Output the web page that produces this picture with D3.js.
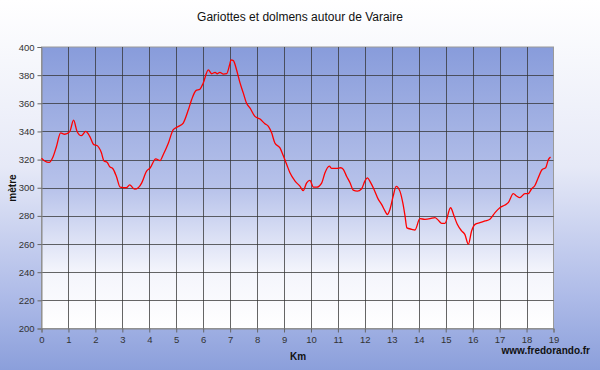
<!DOCTYPE html>
<html><head><meta charset="utf-8">
<script src="https://cdn.jsdelivr.net/npm/d3@7/dist/d3.min.js"></script>
<style>body{margin:0;padding:0;overflow:hidden}svg{display:block}text{font-family:"Liberation Sans",Arial,sans-serif}</style>
</head><body>
<script>
const title = "Gariottes et dolmens autour de Varaire";
const xLabel = "Km";
const yLabel = "mètre";
const credit = "www.fredorando.fr";
const xTicks = [0,1,2,3,4,5,6,7,8,9,10,11,12,13,14,15,16,17,18,19];
const yTicks = [200,220,240,260,280,300,320,340,360,380,400];
const km = [0,0.12,0.28,0.43,0.55,0.71,0.86,1.05,1.19,1.32,1.48,1.64,1.79,1.94,2.06,2.22,2.32,2.44,2.53,2.65,2.78,2.92,3.15,3.27,3.46,3.59,3.72,3.90,4.03,4.24,4.40,4.52,4.71,4.89,5.08,5.26,5.45,5.57,5.73,5.88,6.00,6.19,6.32,6.44,6.52,6.62,6.75,6.87,6.99,7.03,7.12,7.24,7.37,7.49,7.61,7.74,7.92,8.11,8.29,8.42,8.54,8.66,8.85,8.97,9.10,9.22,9.41,9.59,9.71,9.84,9.96,10.09,10.21,10.40,10.52,10.68,10.77,10.95,11.10,11.20,11.32,11.45,11.57,11.72,11.88,12.00,12.09,12.22,12.34,12.50,12.62,12.75,12.83,12.93,13.05,13.16,13.30,13.41,13.49,13.56,13.74,13.86,14.04,14.23,14.42,14.60,14.72,14.85,14.97,15.18,15.31,15.43,15.59,15.71,15.84,15.96,16.09,16.27,16.46,16.64,16.83,17.01,17.20,17.32,17.51,17.63,17.75,17.94,18.06,18.19,18.31,18.43,18.58,18.71,18.81,18.89];
const alt = [321,319,318,322,329,339,338,340,348,340,337,340,336.5,330.6,330,325,319,318,315,313.5,308,300.4,300,302,299,300,303.5,311.8,314,320.5,319.3,323.6,331.8,341.3,343.6,346,355.4,362.5,369,370,374.3,383.7,381,382,381,382,380.7,381,388,390.8,390.3,383.7,374.3,367.2,360,356.6,350.7,348.8,345.5,343.6,339,331.8,328.3,322.9,316.5,310.6,304.7,301.1,298,303.5,305.2,300.4,300.4,303.5,310.6,315.3,313.7,313.7,314.2,313,308.2,303.5,298.3,297.6,299.3,304.7,307,303.5,298.8,291.7,288.2,283.4,281,284.6,294,301,297.6,289,280,271.5,270.5,270,278,277.6,278,278.8,277,274.7,274.7,285.8,279.9,274,269.3,266.9,259.9,269.3,274,275.2,276.4,277.6,282.3,285.8,287.7,289.4,295.8,294.1,293,295.8,295.8,299.3,301.6,307,313,314.2,320,321.9];

const W = 600, H = 370;
const m = {left:41.5, right:46.5, top:47, bottom:41};
const svg = d3.select("body").append("svg").attr("width", W).attr("height", H);
const defs = svg.append("defs");
const bg = defs.append("linearGradient").attr("id","bg").attr("x1",0).attr("y1",0).attr("x2",0).attr("y2",1);
bg.append("stop").attr("offset",0).attr("stop-color","#ffffff");
bg.append("stop").attr("offset",0.45).attr("stop-color","#e6e9f7");
bg.append("stop").attr("offset",0.8).attr("stop-color","#aebbe8");
bg.append("stop").attr("offset",1).attr("stop-color","#8b9fdb");
const pg = defs.append("linearGradient").attr("id","pg").attr("x1",0).attr("y1",0).attr("x2",0).attr("y2",1);
pg.append("stop").attr("offset",0).attr("stop-color","#889cdb");
pg.append("stop").attr("offset",0.5).attr("stop-color","#b7c2ea");
pg.append("stop").attr("offset",0.8).attr("stop-color","#f4f5fc");
pg.append("stop").attr("offset",1).attr("stop-color","#ffffff");

svg.append("rect").attr("width",W).attr("height",H).attr("fill","url(#bg)");

const x = d3.scaleLinear().domain([0,19]).range([m.left, W - m.right]);
const y = d3.scaleLinear().domain([200,400]).range([H - m.bottom - 0.5, m.top]);

svg.append("rect").attr("x",x(0)).attr("y",y(400)).attr("width",x(19)-x(0)).attr("height",y(200)-y(400))
  .attr("fill","url(#pg)").attr("stroke","#9a9a9a").attr("stroke-width",1);

const g = svg.append("g");
g.selectAll("line.vg").data(xTicks.slice(1,-1)).join("line").attr("class","vg")
  .attr("x1",d=>Math.round(x(d))+0.5).attr("x2",d=>Math.round(x(d))+0.5).attr("y1",y(400)).attr("y2",y(200))
  .attr("stroke","#333").attr("stroke-opacity",0.75).attr("stroke-width",1);
g.selectAll("line.hg").data(yTicks.slice(1,-1)).join("line").attr("class","hg")
  .attr("y1",d=>Math.round(y(d))+0.5).attr("y2",d=>Math.round(y(d))+0.5).attr("x1",x(0)).attr("x2",x(19))
  .attr("stroke","#333").attr("stroke-opacity",0.75).attr("stroke-width",1);

const xAxis = svg.append("g").attr("transform",`translate(0,${y(200)})`)
  .call(d3.axisBottom(x).tickValues(xTicks).tickFormat(d3.format("d")).tickSize(4).tickPadding(4));
const yAxis = svg.append("g").attr("transform",`translate(${x(0)},0)`)
  .call(d3.axisLeft(y).tickValues(yTicks).tickFormat(d3.format("d")).tickSize(4).tickPadding(3));
[xAxis,yAxis].forEach(a=>{
  a.select(".domain").attr("stroke","#888");
  a.selectAll(".tick line").attr("stroke","#666");
  a.selectAll("text").attr("fill","#333").attr("font-size",9.5).attr("font-family","'Liberation Sans',Arial,sans-serif");
});

const line = d3.line().x((d,i)=>x(km[i])).y((d,i)=>y(alt[i])).curve(d3.curveMonotoneX);
svg.append("path").datum(alt).attr("d",line).attr("fill","none").attr("stroke","#ff0000").attr("stroke-width",1.3);

svg.append("text").attr("x",300).attr("y",21).attr("text-anchor","middle").attr("font-size",12).attr("fill","#111").text(title);
svg.append("text").attr("x",298).attr("y",360).attr("text-anchor","middle").attr("font-size",10).attr("font-weight","bold").attr("fill","#111").text(xLabel);
svg.append("text").attr("transform","translate(16,188) rotate(-90)").attr("text-anchor","middle").attr("font-size",10).attr("font-weight","bold").attr("fill","#111").text(yLabel);
svg.append("text").attr("x",590).attr("y",354).attr("text-anchor","end").attr("font-size",10).attr("font-weight","bold").attr("fill","#111").text(credit);
</script>
</body></html>
